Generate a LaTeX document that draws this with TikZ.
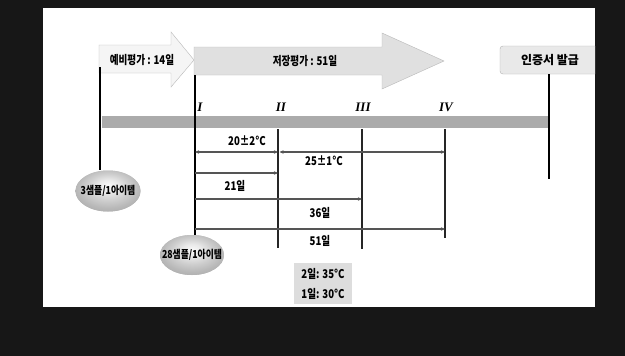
\documentclass[tikz,border=0pt]{standalone}
\usepackage{fontspec}
\setmainfont{Noto Sans CJK KR}[BoldFont={Noto Sans CJK KR Black}]
\newfontfamily\romfont{Liberation Serif}
\usetikzlibrary{arrows.meta,shapes.geometric}
\definecolor{darkbg}{HTML}{171717}
\definecolor{bargray}{HTML}{ABABAB}
\definecolor{spangray}{HTML}{555555}
\pgfdeclareradialshading{eggshade}{\pgfpoint{0bp}{7bp}}{%
  color(0bp)=(gray!5); color(8bp)=(gray!18); color(16bp)=(gray!38);
  color(24bp)=(gray!55); color(31bp)=(gray!66); color(50bp)=(gray!70)}
\tikzset{
  lbl/.style={font=\bfseries\fontsize{12}{13}\selectfont, xscale=0.8, inner sep=1pt},
  smalllbl/.style={font=\bfseries\fontsize{11}{12}\selectfont, xscale=0.8, inner sep=0pt},
  romanlbl/.style={font=\romfont\bfseries\itshape\fontsize{13}{13}\selectfont, inner sep=0pt},
  stem/.style={line width=2.8pt},
  vline/.style={line width=1.4pt, draw=black!85},
  durarrow/.style={line width=1.1pt, draw=spangray},
  sample/.style={ellipse, minimum width=65pt, minimum height=41pt, shading=eggshade, inner sep=0pt},
}
\begin{document}
\begin{tikzpicture}[x=1pt, y=-1pt, >={Stealth[length=4pt,width=3.5pt]}]
  % 1. 배경과 흰 판
  \fill[darkbg] (0,0) rectangle (625,356);
  \fill[white] (43,8) rectangle (595,307);
  \useasboundingbox (0,0) rectangle (625,356);

  % 2. 회색 시간 막대
  \fill[bargray] (102,116) rectangle (548,128);

  % 3. 상단 화살표와 인증서 상자
  \draw[gray!55, fill=gray!8] (99,45) -- (171,45) -- (171,32) -- (194,60) -- (171,87) -- (171,73) -- (99,73) -- cycle;
  \draw[gray!55, fill=gray!24] (194,47) -- (382,47) -- (382,33) -- (444,61) -- (382,89) -- (382,75) -- (194,75) -- cycle;
  \node[lbl] (pre) at (142,60) {예비평가 : 14일};
  \node[lbl] (store) at (305,61) {저장평가 : 51일};
  \begin{scope}
    \clip (43,8) rectangle (595,307);
    \node[draw=gray!60, fill=gray!17, rounded corners=3pt, minimum width=100pt, minimum height=28pt,
          font=\bfseries\fontsize{12}{13}\selectfont] (cert) at (550,60) {인증서 발급};
  \end{scope}

  % 4. 세로선
  \coordinate (s0) at (100,67);
  \coordinate (c1) at (549,179);
  \coordinate (vI) at (195,75);
  \coordinate (vII) at (278,129);
  \coordinate (vIII) at (362,129);
  \coordinate (vIV) at (445,129);
  \node[sample] (e3) at (108,191) {};
  \node[sample, minimum width=64pt, minimum height=40pt] (e28) at (192,255) {};
  \draw[stem] (s0) -- (s0 |- e3.north);
  \draw[stem] (cert.south -| c1) -- (c1);
  \draw[vline, draw=black] (vI) -- (vI |- 0,240);
  \draw[vline] (vII) -- (vII |- 0,248);
  \draw[vline] (vIII) -- (vIII |- 0,249);
  \draw[vline] (vIV) -- (vIV |- 0,238);

  % 5. 단계 번호
  \node[romanlbl] (rI) at (200,107) {I};
  \node[romanlbl] (rII) at (281,107) {II};
  \node[romanlbl] (rIII) at (363,107) {III};
  \node[romanlbl] (rIV) at (446,107) {IV};

  % 6. 기간 화살표
  \draw[durarrow, <->] (vI |- 0,152) -- (vII |- 0,152);
  \draw[durarrow, <->, shorten <=1.5pt] (vII |- 0,152) -- (vIV |- 0,152);
  \draw[durarrow, ->] (vI |- 0,173) -- (vII |- 0,173);
  \draw[durarrow, ->] (vI |- 0,199) -- (vIII |- 0,199);
  \draw[durarrow, ->] (vI |- 0,229) -- (vIV |- 0,229);
  \node[lbl] (t20) at (247,141) {20±2°C};
  \node[lbl] (t25) at (324,161) {25±1°C};
  \node[lbl] (d21) at (235,186) {21일};
  \node[lbl] (d36) at (320,213) {36일};
  \node[lbl] (d51) at (320,241) {51일};

  % 7. 시료 타원 (선 위에 다시 그림)
  \node[sample] (e3b) at (e3) {};
  \node[sample, minimum width=64pt, minimum height=40pt] (e28b) at (e28) {};
  \node[smalllbl] (e3t) at (e3) {3샘플/1아이템};
  \node[smalllbl] (e28t) at (e28) {28샘플/1아이템};

  % 8. 가속 조건 상자
  \node[lbl, fill=gray!27, minimum width=72.5pt, minimum height=41pt, align=center] (cond) at (323,283.5) {2일: 35°C\\[7pt]1일: 30°C};
\end{tikzpicture}
\end{document}
